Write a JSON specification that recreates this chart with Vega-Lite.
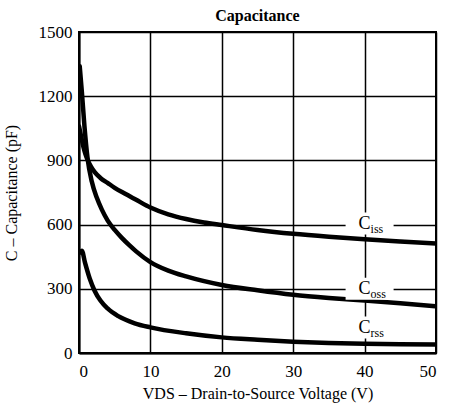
{
  "$schema": "https://vega.github.io/schema/vega-lite/v6.json",
  "width": 357,
  "height": 321,
  "autosize": {"type": "none"},
  "padding": {"left": 79, "top": 32, "right": 14, "bottom": 65},
  "background": "white",
  "config": {
    "font": "Liberation Serif",
    "view": {"stroke": "black", "strokeWidth": 2},
    "axis": {
      "grid": true,
      "gridColor": "black",
      "gridOpacity": 1,
      "gridWidth": 1.5,
      "domainColor": "black",
      "domainWidth": 2,
      "ticks": false,
      "tickSize": 0,
      "labelFont": "Liberation Serif",
      "labelFontSize": 17,
      "labelColor": "black",
      "titleFont": "Liberation Serif",
      "titleFontSize": 16,
      "titleFontWeight": "normal",
      "titleColor": "black"
    },
    "title": {"font": "Liberation Serif", "fontSize": 16, "fontWeight": "bold", "color": "black", "offset": -1, "frame": "group"}
  },
  "title": {"text": "Capacitance", "anchor": "middle"},
  "datasets": {
    "curves": [
      {"series": "Ciss", "V": 0, "C": 1060},
      {"series": "Ciss", "V": 0.3, "C": 1012},
      {"series": "Ciss", "V": 0.6, "C": 965},
      {"series": "Ciss", "V": 0.9, "C": 930},
      {"series": "Ciss", "V": 1.2, "C": 903},
      {"series": "Ciss", "V": 1.7, "C": 870},
      {"series": "Ciss", "V": 2.2, "C": 845},
      {"series": "Ciss", "V": 3, "C": 818},
      {"series": "Ciss", "V": 4, "C": 795},
      {"series": "Ciss", "V": 5, "C": 772},
      {"series": "Ciss", "V": 6.4, "C": 745},
      {"series": "Ciss", "V": 8, "C": 716},
      {"series": "Ciss", "V": 10, "C": 680},
      {"series": "Ciss", "V": 12.5, "C": 648},
      {"series": "Ciss", "V": 15, "C": 626},
      {"series": "Ciss", "V": 17.5, "C": 610},
      {"series": "Ciss", "V": 20, "C": 598},
      {"series": "Ciss", "V": 25, "C": 575},
      {"series": "Ciss", "V": 30, "C": 557},
      {"series": "Ciss", "V": 35, "C": 543},
      {"series": "Ciss", "V": 40, "C": 531},
      {"series": "Ciss", "V": 45, "C": 521},
      {"series": "Ciss", "V": 50, "C": 512},
      {"series": "Coss", "V": 0.1, "C": 1340},
      {"series": "Coss", "V": 0.4, "C": 1220},
      {"series": "Coss", "V": 0.75, "C": 1065},
      {"series": "Coss", "V": 1.2, "C": 910},
      {"series": "Coss", "V": 1.8, "C": 800},
      {"series": "Coss", "V": 2.5, "C": 725},
      {"series": "Coss", "V": 3.2, "C": 670},
      {"series": "Coss", "V": 4, "C": 620},
      {"series": "Coss", "V": 5, "C": 575},
      {"series": "Coss", "V": 6, "C": 538},
      {"series": "Coss", "V": 7, "C": 505},
      {"series": "Coss", "V": 8, "C": 475},
      {"series": "Coss", "V": 10, "C": 425},
      {"series": "Coss", "V": 12.5, "C": 385},
      {"series": "Coss", "V": 15, "C": 358},
      {"series": "Coss", "V": 20, "C": 318},
      {"series": "Coss", "V": 25, "C": 293},
      {"series": "Coss", "V": 30, "C": 272},
      {"series": "Coss", "V": 35, "C": 257},
      {"series": "Coss", "V": 40, "C": 245},
      {"series": "Coss", "V": 45, "C": 232},
      {"series": "Coss", "V": 50, "C": 218},
      {"series": "Crss", "V": 0.15, "C": 470},
      {"series": "Crss", "V": 0.4, "C": 478},
      {"series": "Crss", "V": 0.84, "C": 422},
      {"series": "Crss", "V": 1.5, "C": 348},
      {"series": "Crss", "V": 2.2, "C": 290},
      {"series": "Crss", "V": 3, "C": 245},
      {"series": "Crss", "V": 4, "C": 208},
      {"series": "Crss", "V": 5.5, "C": 172},
      {"series": "Crss", "V": 7.8, "C": 139},
      {"series": "Crss", "V": 10, "C": 120},
      {"series": "Crss", "V": 15, "C": 92},
      {"series": "Crss", "V": 20, "C": 73},
      {"series": "Crss", "V": 25, "C": 62},
      {"series": "Crss", "V": 30, "C": 53},
      {"series": "Crss", "V": 35, "C": 47},
      {"series": "Crss", "V": 40, "C": 43},
      {"series": "Crss", "V": 45, "C": 41},
      {"series": "Crss", "V": 50, "C": 40}
    ],
    "labels": [
      {"main": "C", "sub": "iss", "V": 40.7, "C": 605},
      {"main": "C", "sub": "oss", "V": 40.7, "C": 300},
      {"main": "C", "sub": "rss", "V": 40.7, "C": 119}
    ]
  },
  "encoding": {
    "x": {
      "field": "V",
      "type": "quantitative",
      "scale": {"domain": [0, 50], "nice": false},
      "axis": {
        "values": [0, 10, 20, 30, 40, 50],
        "labelPadding": 10,
        "titlePadding": 6,
        "title": "VDS  –  Drain-to-Source Voltage (V)"
      }
    },
    "y": {
      "field": "C",
      "type": "quantitative",
      "scale": {"domain": [0, 1500], "nice": false},
      "axis": {
        "values": [0, 300, 600, 900, 1200, 1500],
        "format": "d",
        "labelPadding": 7,
        "titleX": -60,
        "titleBaseline": "bottom",
        "title": "C  –  Capacitance (pF)"
      }
    }
  },
  "layer": [
    {
      "data": {"name": "curves"},
      "mark": {"type": "line", "color": "black", "strokeWidth": 4.5, "interpolate": "monotone", "strokeCap": "round", "clip": true},
      "encoding": {"detail": {"field": "series"}}
    },
    {
      "data": {"name": "labels"},
      "mark": {"type": "point", "shape": "M-1,-0.46H1V0.46H-1Z", "size": 2304, "filled": true, "fill": "white", "opacity": 1, "strokeWidth": 0}
    },
    {
      "data": {"name": "labels"},
      "mark": {"type": "text", "align": "right", "baseline": "middle", "fontSize": 18, "color": "black", "dx": 1},
      "encoding": {"text": {"field": "main"}}
    },
    {
      "data": {"name": "labels"},
      "mark": {"type": "text", "align": "left", "baseline": "middle", "fontSize": 12, "color": "black", "dx": 1, "dy": 5},
      "encoding": {"text": {"field": "sub"}}
    }
  ]
}
